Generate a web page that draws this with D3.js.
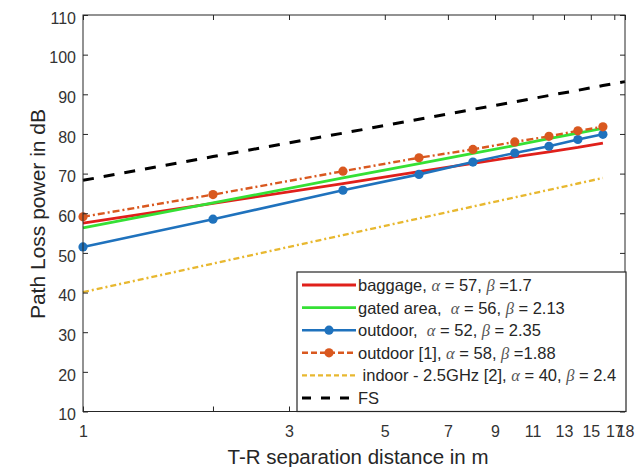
<!DOCTYPE html>
<html>
<head>
<meta charset="utf-8">
<script src="https://cdn.jsdelivr.net/npm/d3@7"></script>
<style>
  html, body { margin: 0; padding: 0; background: #fff; }
  svg { display: block; }
  text { font-family: "Liberation Sans", Arial, sans-serif; white-space: pre; }
</style>
</head>
<body>
<svg id="chart" width="640" height="467"></svg>
<script>
// ---- data ----
const distances = [1, 2, 4, 6, 8, 10, 12, 14, 16];
const fsDistances = [1, 2, 4, 6, 8, 10, 12, 14, 16, 18];
const baggage  = [57.5, 62.5, 67.5, 70.5, 72.6, 74.2, 75.5, 76.6, 77.7];
const gated    = [56.3, 62.6, 68.9, 72.5, 75.1, 77.1, 78.8, 80.2, 81.4];
const outdoor  = [51.5, 58.5, 65.8, 69.8, 72.9, 75.2, 76.9, 78.6, 79.9];
const outdoor1 = [59.1, 64.7, 70.6, 74.0, 76.1, 78.0, 79.4, 80.8, 81.8];
const indoor   = [40.1, 47.3, 54.5, 58.7, 61.7, 64.0, 65.9, 67.5, 68.9];
const fs       = [68.3, 74.3, 80.2, 83.7, 86.2, 88.1, 89.7, 91.0, 92.2, 93.2];
const xTicks = [1, 2, 3, 5, 7, 9, 11, 13, 15, 17, 18];
const xTickLabels = ["1", "", "3", "5", "7", "9", "11", "13", "15", "17", "18"];
const yTicks = [10, 20, 30, 40, 50, 60, 70, 80, 90, 100, 110];
const seriesNames = [
  "baggage, α = 57, β =1.7",
  "gated area,  α = 56, β = 2.13",
  "outdoor,  α = 52, β = 2.35",
  "outdoor [1], α = 58, β =1.88",
  " indoor - 2.5GHz [2], α = 40, β = 2.4",
  "FS"
];

// ---- layout ----
const L = 83, R = 625, T = 15, B = 411.5;
const svg = d3.select("#chart");
const x = d3.scaleLog().domain([1, 18]).range([L, R]);
const y = d3.scaleLinear().domain([10, 110]).range([B, T]);
const axisColor = "#262626";
const tickFont = 16;

const series = [
  { name: seriesNames[0], xs: distances, ys: baggage, color: "#e0201b", width: 2.8, dash: null, marker: false },
  { name: seriesNames[1], xs: distances, ys: gated, color: "#35e035", width: 2.8, dash: null, marker: false },
  { name: seriesNames[2], xs: distances, ys: outdoor, color: "#1f72bd", width: 2.6, dash: null, marker: true },
  { name: seriesNames[3], xs: distances, ys: outdoor1, color: "#d9581f", width: 2.4, dash: "7,3,2,3", marker: true },
  { name: seriesNames[4], xs: distances, ys: indoor, color: "#e8b830", width: 2.4, dash: "6,3,2,3", marker: false },
  { name: seriesNames[5], xs: fsDistances, ys: fs, color: "#000000", width: 3, dash: "11,10", marker: false }
];

svg.append("rect").attr("x", L).attr("y", T).attr("width", R - L).attr("height", B - T)
  .attr("fill", "#fff");

// ---- lines ----
const line = d3.line().x(d => x(d[0])).y(d => y(d[1]));
series.forEach(s => {
  const pts = s.xs.map((d, i) => [d, s.ys[i]]);
  svg.append("path").datum(pts).attr("d", line)
    .attr("fill", "none").attr("stroke", s.color).attr("stroke-width", s.width)
    .attr("stroke-dasharray", s.dash);
  if (s.marker) {
    svg.selectAll(null).data(pts).enter().append("circle")
      .attr("cx", d => x(d[0])).attr("cy", d => y(d[1])).attr("r", 4.6)
      .attr("fill", s.color);
  }
});

// ---- axes ----
svg.append("rect").attr("x", L).attr("y", T).attr("width", R - L).attr("height", B - T)
  .attr("fill", "none").attr("stroke", axisColor).attr("stroke-width", 1);

const yAxisL = d3.axisLeft(y).tickValues(yTicks).tickSizeInner(-5).tickSizeOuter(0).tickPadding(7);
const gy = svg.append("g").attr("transform", `translate(${L},0)`).call(yAxisL);
gy.select(".domain").remove();
gy.selectAll("line").attr("stroke", axisColor);
gy.selectAll("text").attr("font-size", tickFont).attr("fill", "#333").attr("dy", "0.52em")
  .attr("font-family", "Liberation Sans, Arial, sans-serif");
const yAxisR = d3.axisRight(y).tickValues(yTicks).tickSizeInner(-5).tickSizeOuter(0).tickFormat("");
const gyr = svg.append("g").attr("transform", `translate(${R},0)`).call(yAxisR);
gyr.select(".domain").remove();
gyr.selectAll("line").attr("stroke", axisColor);

const xAxisB = d3.axisBottom(x).tickValues(xTicks).tickSizeInner(-5).tickSizeOuter(0).tickPadding(14)
  .tickFormat((d, i) => xTickLabels[i]);
const gx = svg.append("g").attr("transform", `translate(0,${B})`).call(xAxisB);
gx.select(".domain").remove();
gx.selectAll("line").attr("stroke", axisColor);
gx.selectAll("text").attr("font-size", tickFont).attr("fill", "#333")
  .attr("font-family", "Liberation Sans, Arial, sans-serif");
const xAxisT = d3.axisTop(x).tickValues(xTicks).tickSizeInner(-5).tickSizeOuter(0).tickFormat("");
const gxt = svg.append("g").attr("transform", `translate(0,${T})`).call(xAxisT);
gxt.select(".domain").remove();
gxt.selectAll("line").attr("stroke", axisColor);

// axis labels
svg.append("text").attr("x", 358).attr("y", 464).attr("text-anchor", "middle")
  .attr("font-size", 20.5).attr("fill", "#262626").text("T-R separation distance in m");
svg.append("text").attr("transform", `translate(45,214) rotate(-90)`)
  .attr("text-anchor", "middle").attr("font-size", 21).attr("fill", "#262626")
  .text("Path Loss power in dB");

// ---- legend ----
const LgL = 297, LgT = 272, LgR = R + 1, LgB = B;
const lg = svg.append("g");
lg.append("rect").attr("x", LgL).attr("y", LgT).attr("width", LgR - LgL).attr("height", LgB - LgT)
  .attr("fill", "#fff").attr("stroke", axisColor).attr("stroke-width", 1.2);
const rowY0 = 285, rowDY = 22.6;
series.forEach((s, i) => {
  const yy = rowY0 + i * rowDY;
  let dash = s.dash;
  if (i === 3) dash = "6,3";
  if (i === 4) dash = "5,3";
  if (i === 5) dash = "9,10";
  lg.append("line").attr("x1", 302).attr("x2", 356).attr("y1", yy).attr("y2", yy)
    .attr("stroke", s.color).attr("stroke-width", s.width).attr("stroke-dasharray", dash);
  if (s.marker) {
    lg.append("circle").attr("cx", 329).attr("cy", yy).attr("r", 4.6).attr("fill", s.color);
  }
  const t = lg.append("text").attr("x", 358).attr("y", yy + 6).attr("font-size", 16.5).attr("fill", "#262626")
    .attr("xml:space", "preserve");
  const parts = s.name.split(/([αβ])/);
  parts.forEach(p => {
    if (p === "α" || p === "β") {
      t.append("tspan").attr("font-family", "Liberation Serif, DejaVu Serif, serif")
        .attr("font-style", "italic").attr("fill", "#555").text(p);
    } else if (p.length) {
      t.append("tspan").text(p);
    }
  });
});
</script>
</body>
</html>
